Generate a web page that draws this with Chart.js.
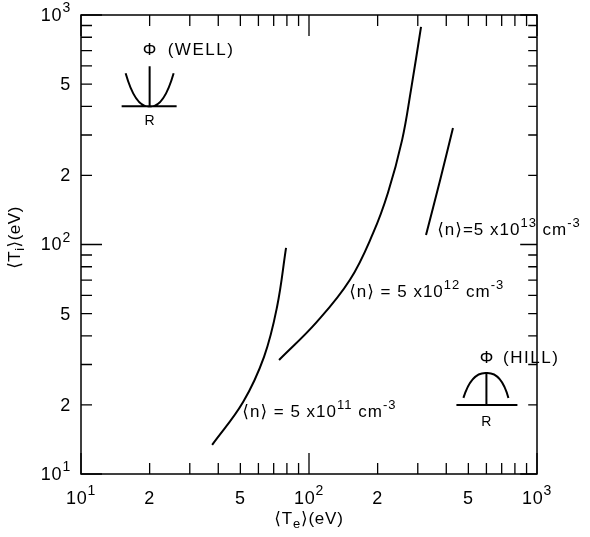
<!DOCTYPE html>
<html>
<head>
<meta charset="utf-8">
<script src="https://cdn.jsdelivr.net/npm/chart.js@4.4.1/dist/chart.umd.min.js"></script>
<style>
    html, body { margin: 0; padding: 0; background: #fff; }
    #wrap { width: 590px; height: 537px; position: relative; }
</style>
</head>
<body>
<div id="wrap"><canvas id="chart"></canvas></div>
<script>
// curves: <Te> (eV) against <Ti> (eV)
const lowTe = [37.6, 51.4, 63.5, 72.4, 79.3];
const lowTi = [13.4, 20.6, 32.4, 53.4, 96.6];
const midTe = [73.9, 108, 151, 191, 222, 256, 280, 310];
const midTi = [31.4, 45.9, 70, 112, 168, 285, 471, 887];
const highTe = [326, 376, 428];
const highTi = [110, 191, 322];

const logTicks = [10, 20, 30, 40, 50, 60, 70, 80, 90, 100, 200, 300, 400, 500, 600, 700, 800, 900, 1000];
const majorTicks = [10, 100, 1000];
const labeledTicks = [10, 20, 50, 100, 200, 500, 1000];
const tickBases = ['10', '2', '5', '10', '2', '5', '10'];
const tickExps = ['1', '', '', '2', '', '', '3'];

const FONT = '"Liberation Sans", "DejaVu Sans", sans-serif';

function toPoints(xs, ys) {
    return xs.map((x, i) => ({ x: x, y: ys[i] }));
}

function curve(xs, ys) {
    return {
        data: toPoints(xs, ys),
        showLine: true,
        borderColor: '#000',
        borderWidth: 2,
        pointRadius: 0,
        tension: 0.4
    };
}

// text with raised / lowered pieces: parts = [[text, 'sup'|'sub'|''], ...]
function drawRich(ctx, parts, x, y, align, size, spacing) {
    const fontOf = p => (p[1] ? Math.round(size * 0.78) : size) + 'px ' + FONT;
    ctx.letterSpacing = (spacing || 0) + 'px';
    let total = 0;
    parts.forEach(p => { ctx.font = fontOf(p); total += ctx.measureText(p[0]).width; });
    let cx = align === 'center' ? x - total / 2 : align === 'right' ? x - total : x;
    ctx.textAlign = 'left';
    ctx.textBaseline = 'middle';
    parts.forEach(p => {
        ctx.font = fontOf(p);
        const dy = p[1] === 'sup' ? -size * 0.42 : p[1] === 'sub' ? size * 0.32 : 0;
        ctx.fillText(p[0], cx, y + dy);
        cx += ctx.measureText(p[0]).width;
    });
    ctx.letterSpacing = '0px';
}

function densityLabel(exp, spaced) {
    const eq = spaced ? ' = ' : '=';
    return [['\u27E8n\u27E9' + eq + '5 x10', ''], [exp, 'sup'], [' cm', ''], ['-3', 'sup']];
}

// frame with inward ticks on all four sides, labels, and the annotations
const framePlugin = {
    id: 'frame',
    afterDraw(chart) {
        const { ctx, chartArea: a, scales } = chart;
        const xs = scales.x, ys = scales.y;
        ctx.save();
        ctx.strokeStyle = '#000';
        ctx.fillStyle = '#000';
        ctx.lineWidth = 1.5;
        ctx.strokeRect(a.left, a.top, a.right - a.left, a.bottom - a.top);

        ctx.lineWidth = 1.3;
        ctx.beginPath();
        logTicks.forEach(v => {
            const len = majorTicks.includes(v) ? 21 : 11;
            const px = xs.getPixelForValue(v);
            const py = ys.getPixelForValue(v);
            ctx.moveTo(px, a.bottom); ctx.lineTo(px, a.bottom - len);
            ctx.moveTo(px, a.top); ctx.lineTo(px, a.top + len);
            ctx.moveTo(a.left, py); ctx.lineTo(a.left + len, py);
            ctx.moveTo(a.right, py); ctx.lineTo(a.right - len * 0.8, py);
        });
        ctx.stroke();

        // tick labels
        labeledTicks.forEach((v, i) => {
            const parts = [[tickBases[i], '']];
            if (tickExps[i]) parts.push([tickExps[i], 'sup']);
            drawRich(ctx, parts, xs.getPixelForValue(v), a.bottom + 25, 'center', 18, 0.8);
            drawRich(ctx, parts, a.left - 10, ys.getPixelForValue(v) + 1, 'right', 18, 0.8);
        });

        // axis titles
        drawRich(ctx, [['\u27E8T', ''], ['e', 'sub'], ['\u27E9(eV)', '']], (a.left + a.right) / 2, 519, 'center', 17, 0.8);
        ctx.save();
        ctx.translate(15, (a.top + a.bottom) / 2 - 7);
        ctx.rotate(-Math.PI / 2);
        drawRich(ctx, [['\u27E8T', ''], ['i', 'sub'], ['\u27E9(eV)', '']], 0, 0, 'center', 17, 0.5);
        ctx.restore();

        const P = (x, y) => [xs.getPixelForValue(x), ys.getPixelForValue(y)];

        let p = P(51, 18.5);
        drawRich(ctx, densityLabel('11', true), p[0], p[1], 'left', 17, 1);
        p = P(150, 62);
        drawRich(ctx, densityLabel('12', true), p[0], p[1], 'left', 17, 1);
        p = P(365, 115);
        drawRich(ctx, densityLabel('13', false), p[0], p[1], 'left', 17, 1);

        // well sketch
        ctx.font = '17px ' + FONT;
        ctx.textBaseline = 'middle';
        p = P(20, 700);
        ctx.textAlign = 'center';
        ctx.fillText('\u03A6', p[0], p[1]);
        p = P(24, 700);
        ctx.textAlign = 'left';
        ctx.letterSpacing = '1.5px';
        ctx.fillText('(WELL)', p[0], p[1]);
        ctx.letterSpacing = '0px';

        let [wx, wy] = P(20, 400);
        ctx.lineWidth = 2;
        ctx.beginPath();
        ctx.moveTo(wx - 24, wy - 33);
        ctx.quadraticCurveTo(wx - 14, wy + 2, wx, wy);
        ctx.quadraticCurveTo(wx + 14, wy + 2, wx + 24, wy - 33);
        ctx.moveTo(wx, wy); ctx.lineTo(wx, wy - 40);
        ctx.moveTo(wx - 28, wy); ctx.lineTo(wx + 27, wy);
        ctx.stroke();
        ctx.textAlign = 'center';
        ctx.font = '14px ' + FONT;
        ctx.fillText('R', wx, wy + 15);

        // hill sketch
        ctx.font = '17px ' + FONT;
        p = P(600, 32);
        ctx.fillText('\u03A6', p[0], p[1]);
        p = P(710, 32);
        ctx.textAlign = 'left';
        ctx.letterSpacing = '1.5px';
        ctx.fillText('(HILL)', p[0], p[1]);
        ctx.letterSpacing = '0px';

        let [hx, hy] = P(600, 20);
        ctx.beginPath();
        ctx.moveTo(hx - 23, hy - 7);
        ctx.quadraticCurveTo(hx - 15, hy - 33, hx, hy - 32);
        ctx.quadraticCurveTo(hx + 15, hy - 33, hx + 22, hy - 7);
        ctx.moveTo(hx, hy); ctx.lineTo(hx, hy - 32);
        ctx.moveTo(hx - 30, hy); ctx.lineTo(hx + 31, hy);
        ctx.stroke();
        ctx.textAlign = 'center';
        ctx.font = '14px ' + FONT;
        ctx.fillText('R', hx, hy + 17);
        ctx.restore();
    }
};

function logAxis(isX) {
    return {
        type: 'logarithmic',
        min: 10,
        max: 1000,
        grid: { display: false },
        border: { display: false },
        ticks: { display: false },
        afterBuildTicks: scale => {
            scale.ticks = logTicks.map(v => ({ value: v }));
        },
        afterFit: scale => {
            if (isX) scale.height = 63; else scale.width = 81;
        }
    };
}

new Chart(document.getElementById('chart'), {
    type: 'scatter',
    data: {
        datasets: [curve(lowTe, lowTi), curve(midTe, midTi), curve(highTe, highTi)]
    },
    options: {
        responsive: true,
        maintainAspectRatio: false,
        devicePixelRatio: 1,
        animation: false,
        layout: { padding: { left: 0, top: 15, right: 53, bottom: 0 } },
        plugins: {
            legend: { display: false },
            tooltip: { enabled: false }
        },
        scales: {
            x: logAxis(true),
            y: logAxis(false)
        }
    },
    plugins: [framePlugin]
});
</script>
</body>
</html>
